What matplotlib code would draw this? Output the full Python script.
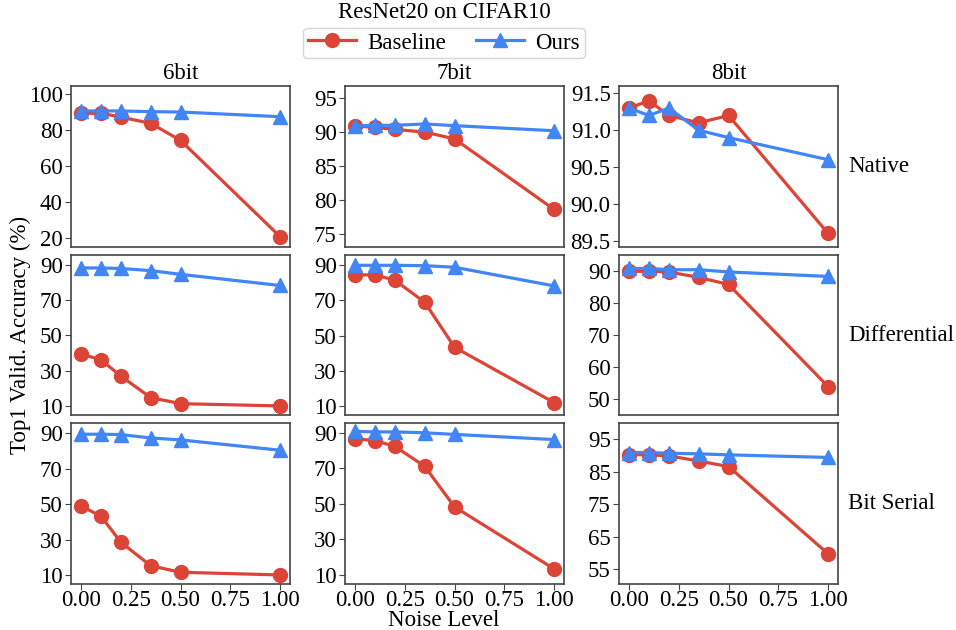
import matplotlib
matplotlib.use('Agg')
import matplotlib.pyplot as plt

plt.rcParams['font.family'] = ['Liberation Serif', 'DejaVu Serif']
plt.rcParams['font.size'] = 16.5

noise = [0.0, 0.1, 0.2, 0.35, 0.5, 1.0]
bits = ['6bit', '7bit', '8bit']
schemes = ['Native', 'Differential', 'Bit Serial']

# baseline[row][col], rows = schemes, cols = bits
baseline = [
    [[89.4, 89.4, 87.3, 83.8, 74.3, 20.7],
     [90.9, 90.7, 90.4, 90.0, 89.0, 78.6],
     [91.3, 91.4, 91.2, 91.1, 91.2, 89.6]],
    [[39.5, 36.3, 27.1, 14.9, 11.5, 10.2],
     [84.2, 84.2, 81.2, 68.8, 43.4, 12.2],
     [90.0, 90.0, 89.8, 88.1, 85.9, 54.0]],
    [[48.9, 43.3, 28.6, 15.4, 11.7, 10.2],
     [86.6, 85.5, 82.3, 71.1, 48.3, 13.5],
     [90.3, 90.2, 89.9, 88.3, 86.6, 59.7]],
]
ours = [
    [[90.7, 90.7, 90.7, 90.3, 90.1, 87.5],
     [90.9, 91.0, 91.0, 91.2, 90.95, 90.2],
     [91.3, 91.2, 91.3, 91.0, 90.9, 90.6]],
    [[88.1, 88.1, 87.8, 86.6, 84.5, 78.2],
     [89.6, 89.6, 89.6, 89.4, 88.5, 78.0],
     [90.9, 90.9, 90.5, 90.5, 89.8, 88.4]],
    [[89.3, 89.3, 89.1, 87.2, 86.1, 80.3],
     [90.7, 90.4, 90.4, 89.9, 89.0, 86.1],
     [90.9, 90.9, 90.7, 90.5, 90.2, 89.4]],
]
yticks = [
    [[20, 40, 60, 80, 100], [75, 80, 85, 90, 95], [89.5, 90.0, 90.5, 91.0, 91.5]],
    [[10, 30, 50, 70, 90], [10, 30, 50, 70, 90], [50, 60, 70, 80, 90]],
    [[10, 30, 50, 70, 90], [10, 30, 50, 70, 90], [55, 65, 75, 85, 95]],
]
ylims = [
    [(15.1, 104.6), (73.1, 96.8), (89.42, 91.6)],
    [(4.9, 95.6), (5.0, 95.6), (45.0, 95.2)],
    [(5.1, 95.4), (5.0, 95.2), (50.4, 99.9)],
]
xticks = [0, 0.25, 0.5, 0.75, 1.0]

red = '#db4437'
blue = '#4285f4'

fig, axes = plt.subplots(3, 3, figsize=(9.56, 6.3), dpi=100)
fig.subplots_adjust(left=0.0743, right=0.8766, top=0.8635, bottom=0.073,
                    wspace=0.2515, hspace=0.05)

for r in range(3):
    for c in range(3):
        ax = axes[r][c]
        l1, = ax.plot(noise, baseline[r][c], color=red, marker='o', lw=2.3,
                      markersize=10, label='Baseline')
        l2, = ax.plot(noise, ours[r][c], color=blue, marker='^', lw=2.3,
                      markersize=10, label='Ours')
        ax.set_ylim(*ylims[r][c])
        ax.set_yticks(yticks[r][c])
        if r == 0 and c == 2:
            ax.set_yticklabels(['%.1f' % t for t in yticks[r][c]])
        ax.set_xticks(xticks)
        ax.tick_params(labelsize=16.5, direction='out', length=4, color='#444444', pad=2)
        ax.tick_params(axis='x', pad=0)
        if r < 2:
            ax.set_xticklabels([])
            ax.tick_params(axis='x', length=0)
        else:
            ax.set_xticklabels(['%.2f' % t for t in xticks])
        for s in ax.spines.values():
            s.set_color('#444444')
            s.set_linewidth(1.2)
        if r == 0:
            ax.set_title(bits[c], fontsize=16.5, pad=5)

for r in range(3):
    pos = axes[r][2].get_position()
    fig.text(848 / 956, (pos.y0 + pos.y1) / 2, schemes[r], fontsize=16.5,
             ha='left', va='center')

fig.text(444 / 956, 1 - 13 / 630, 'ResNet20 on CIFAR10', fontsize=16.5,
         ha='center', va='center')
fig.legend([l1, l2], ['Baseline', 'Ours'], loc='center', ncol=2,
           bbox_to_anchor=(444 / 956, 1 - 43 / 630), fontsize=16.5,
           frameon=True, edgecolor='#cccccc', handlelength=2.1,
           borderpad=0.2, columnspacing=1.3, handletextpad=0.5)
fig.text(444 / 956, 1 - 621 / 630, 'Noise Level', fontsize=16.5,
         ha='center', va='center')
fig.text(20 / 956, 1 - 335 / 630, 'Top1 Valid. Accuracy (%)', fontsize=16.5,
         ha='center', va='center', rotation=90)

fig.savefig('out.png', dpi=100)
